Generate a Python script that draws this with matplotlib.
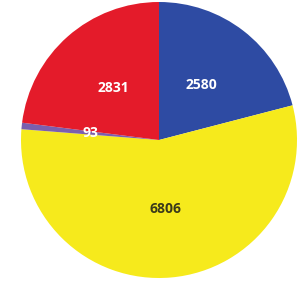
import matplotlib
matplotlib.use("Agg")
import matplotlib.pyplot as plt
import numpy as np

categories = ["Blue", "Yellow", "Purple", "Red"]
values = [2580, 6806, 93, 2831]
colors = ["#2E4BA3", "#F6EA1C", "#7B5FAE", "#E41B2A"]
label_colors = ["white", "#3A3A1A", "white", "white"]

fig = plt.figure(figsize=(3.05, 2.81), dpi=100)
ax = fig.add_axes([21/305, 3/281, 276/305, 276/281])
wedges, _ = ax.pie(values, colors=colors, startangle=90, counterclock=False,
                   wedgeprops=dict(linewidth=0))
for w, v, c in zip(wedges, values, label_colors):
    ang = np.deg2rad((w.theta1 + w.theta2) / 2)
    r = 0.5
    ax.text(r*np.cos(ang), r*np.sin(ang), str(v),
            ha="center", va="center", color=c, fontsize=10,
            family="Open Sans", fontweight="bold")
ax.set_aspect("equal")
ax.set_xlim(-1, 1); ax.set_ylim(-1, 1)
fig.savefig("out.png", dpi=100)
